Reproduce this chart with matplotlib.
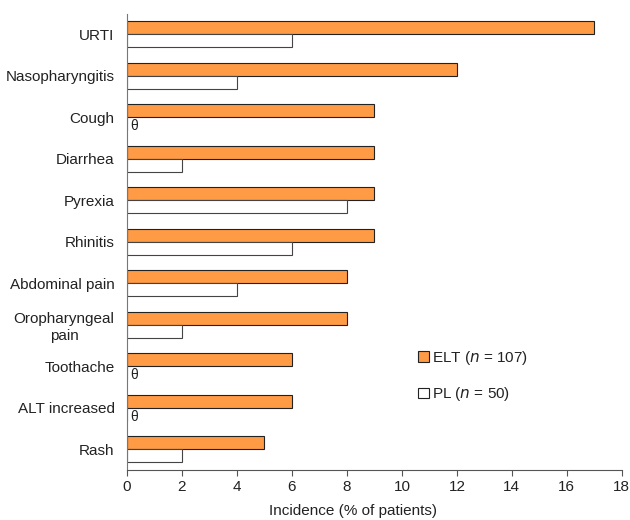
import numpy as np
import matplotlib
matplotlib.use('Agg')
import matplotlib.pyplot as plt
from matplotlib.patches import Patch

plt.rcParams['font.family'] = ['Liberation Sans', 'DejaVu Sans']

# data
categories = ['URTI', 'Nasopharyngitis', 'Cough', 'Diarrhea', 'Pyrexia', 'Rhinitis',
              'Abdominal pain', 'Oropharyngeal\npain', 'Toothache', 'ALT increased', 'Rash']
elt = [17, 12, 9, 9, 9, 9, 8, 8, 6, 6, 5]
pl = [6, 4, 0, 2, 8, 6, 4, 2, 0, 0, 2]

orange = '#FF9A45'
txtc = '#222222'
ind = np.arange(len(categories))
h = 0.31

fig = plt.figure(figsize=(6.3, 5.2), dpi=100)
ax = fig.add_axes([0.2016, 0.096, 0.7854, 0.878])

ax.barh(ind - h / 2, elt, h, color=orange, edgecolor='#222222', linewidth=0.8)
ax.barh(ind + h / 2, pl, h, color='white', edgecolor='#444444', linewidth=0.8)

# zero values marked with theta
for i, v in enumerate(pl):
    if v == 0:
        ax.text(0.12, i + h / 2 + 0.06, '\u03b8', fontsize=10, va='center', ha='left', color=txtc)

ax.set_ylim(10.5, -0.5)
ax.set_xlim(0, 18)
ax.set_xticks(np.arange(0, 19, 2))
ax.set_yticks(ind)
ax.set_yticklabels(categories, fontsize=11, color=txtc)
ax.tick_params(axis='y', length=0, pad=9)
ax.tick_params(axis='x', direction='out', length=4, color='#555555', labelsize=11, labelcolor=txtc)
for lab in ax.get_yticklabels():
    lab.set_multialignment('center')
for s in ['top', 'right']:
    ax.spines[s].set_visible(False)
ax.spines['left'].set_color('#777777')
ax.spines['bottom'].set_color('#555555')
ax.set_xlabel('Incidence (% of patients)', fontsize=11, color=txtc, labelpad=6)
ax.xaxis.set_label_coords(0.457, -0.075)

handles = [Patch(facecolor=orange, edgecolor='#222222', linewidth=0.8),
           Patch(facecolor='white', edgecolor='#222222', linewidth=0.8)]
fig.legend(handles, ['ELT ($n$ = 107)', 'PL ($n$ = 50)'], loc='upper left',
           bbox_to_anchor=(0.642, 0.355), frameon=False, fontsize=11,
           handlelength=0.7, handleheight=0.7, handletextpad=0.2, labelspacing=1.2,
           labelcolor=txtc)

plt.savefig('out.png', dpi=100)
